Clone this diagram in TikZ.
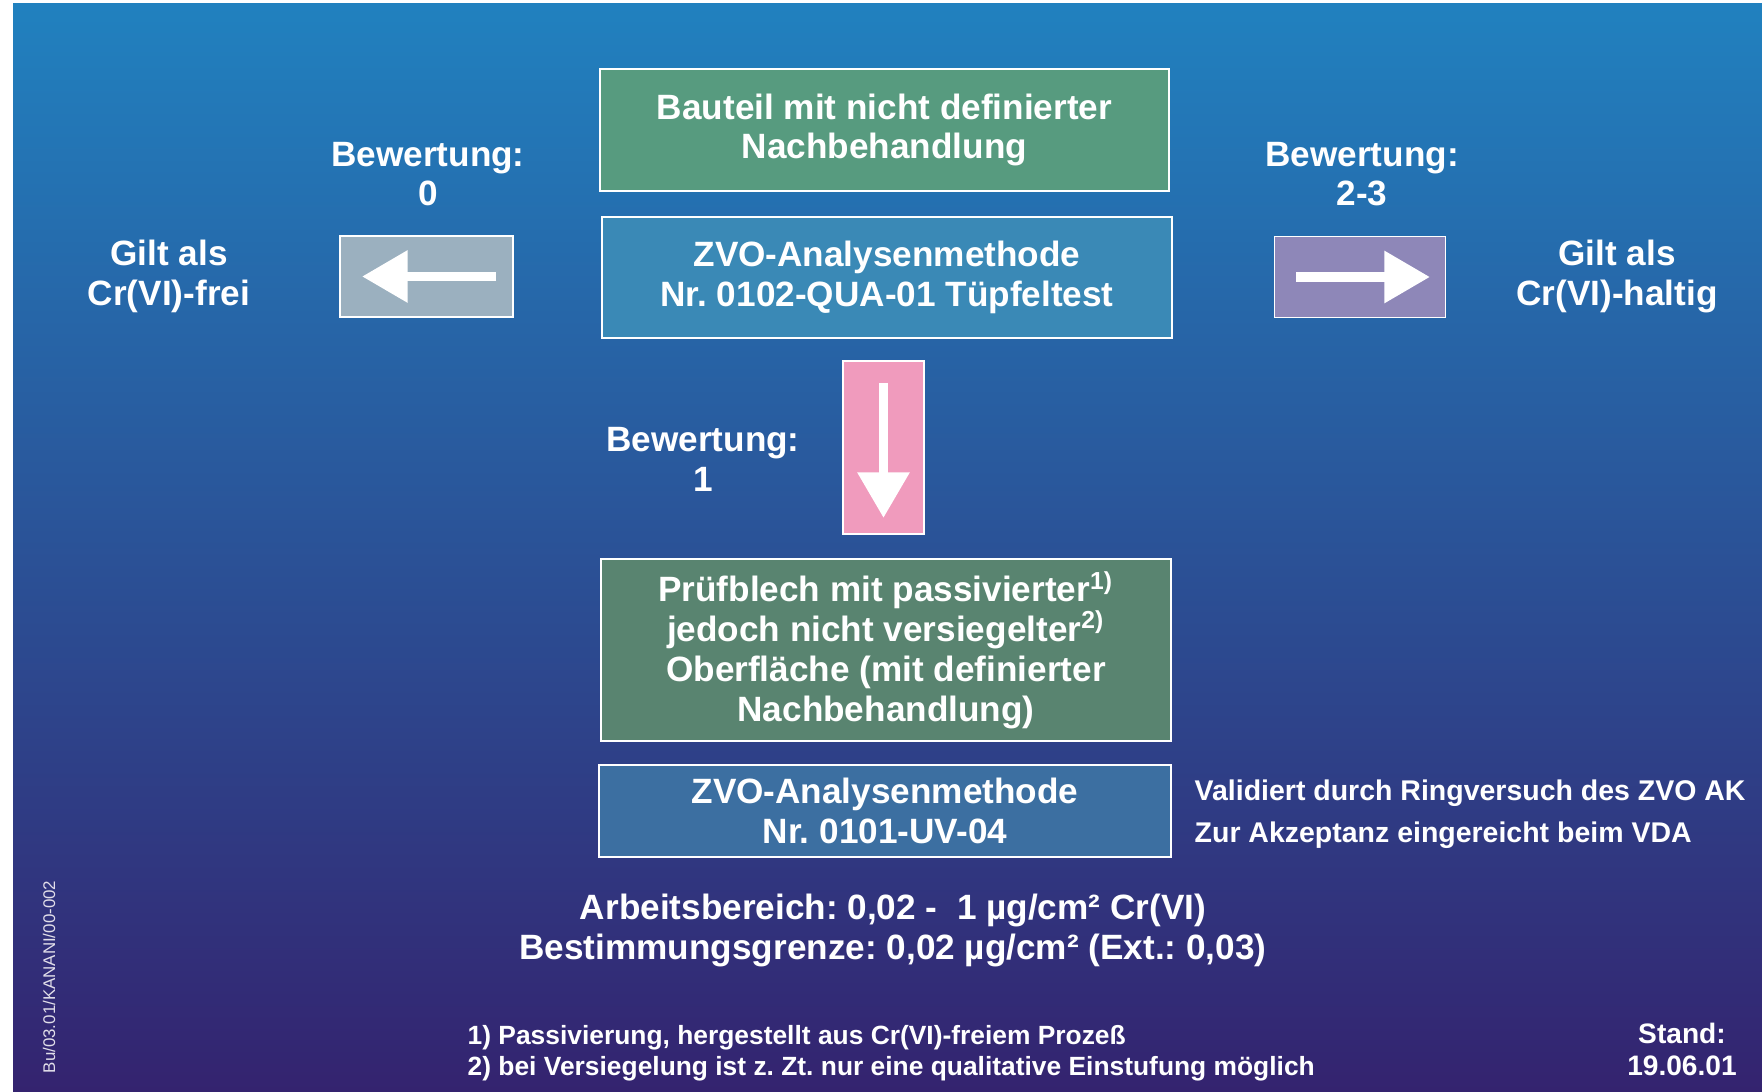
\documentclass[tikz,border=0pt]{standalone}
\usepackage{fontspec}
\setmainfont{Liberation Sans}
\usetikzlibrary{arrows.meta,calc}
\frenchspacing

\definecolor{bgtop}{HTML}{2181BF}
\definecolor{bgbot}{HTML}{34236F}
\definecolor{boxgreen}{HTML}{579B7F}
\definecolor{boxteal}{HTML}{3A89B6}
\definecolor{boxgray}{HTML}{9BB0BF}
\definecolor{boxlila}{HTML}{8E87B8}
\definecolor{boxpink}{HTML}{F09BBD}
\definecolor{boxdkgreen}{HTML}{598470}
\definecolor{boxblue}{HTML}{3C6FA1}

\begin{document}
\begin{tikzpicture}[x=0.01cm,y=-0.01cm]
	\tikzstyle{every node}=[font=\bfseries\fontsize{10pt}{11.3pt}\selectfont, text=white, align=center, inner sep=0pt]
	\tikzstyle{kasten}=[draw=white, line width=0.5pt]
	\tikzstyle{pfeil}=[white, line width=2.8pt, -{Triangle[width=14.2pt,length=13pt]}]
	
	\useasboundingbox (0,0) rectangle (1762,1092);
	\shade [top color=bgtop, bottom color=bgbot] (13,4) rectangle (1762,1092);
	
	% Kaesten in der Mitte
	\node [kasten, fill=boxgreen, minimum width=5.69cm, minimum height=1.22cm] (bauteil) at (884.5,130) {Bauteil mit nicht definierter\\Nachbehandlung};
	\node [kasten, fill=boxteal, minimum width=5.70cm, minimum height=1.21cm] (tuepfel) at (887,277.5) {ZVO-Analysenmethode\\Nr. 0102-QUA-01 Tüpfeltest};
	\node [kasten, fill=boxdkgreen, minimum width=5.70cm, minimum height=1.82cm] (pruefblech) at (886,650) {Prüfblech mit passivierter\textsuperscript{1)}\\jedoch nicht versiegelter\textsuperscript{2)}\\Oberfläche (mit definierter\\Nachbehandlung)};
	\node [kasten, fill=boxblue, minimum width=5.72cm, minimum height=0.92cm] (uvmethode) at (885,811) {ZVO-Analysenmethode\\Nr. 0101-UV-04};
	
	% Pfeilkaesten
	\node [kasten, fill=boxgray, minimum width=1.73cm, minimum height=0.81cm] (links) at (426.5,276.5) {};
	\node [kasten, fill=boxlila, minimum width=1.71cm, minimum height=0.81cm] (rechts) at (1360,277) {};
	\node [kasten, fill=boxpink, minimum width=0.81cm, minimum height=1.73cm] (unten) at (883.5,447.5) {};
	
	\draw [pfeil] ($(links.center)+(69.5,0)$) -- ($(links.center)+(-64.5,0)$);
	\draw [pfeil] ($(rechts.center)+(-64,0)$) -- ($(rechts.center)+(70,0)$);
	\draw [pfeil] ($(unten.center)+(0,-64.5)$) -- ($(unten.center)+(0,70.5)$);
	
	% Bewertungen
	\node (bew0) at (428,174) {Bewertung:\\0};
	\node (frei) at (169,276.5) {Gilt als\\Cr(VI)-frei};
	\node (bew23) at (1362,174) {Bewertung:\\2-3};
	\node (haltig) at (1617,276.5) {Gilt als\\Cr(VI)-haltig};
	\node (bew1) at (703,459.5) {Bewertung:\\1};
	
	\node [anchor=west, align=left, font=\bfseries\fontsize{8.1pt}{11.9pt}\selectfont] (ringversuch) at (1194,814) {Validiert durch Ringversuch des ZVO AK\\Zur Akzeptanz eingereicht beim VDA};
	
	\node [font=\bfseries\fontsize{10pt}{11.6pt}\selectfont] (bereich) at (893,930.5) {Arbeitsbereich: 0,02 -\ \ 1 µg/cm² Cr(VI)\\Bestimmungsgrenze: 0,02 µg/cm² (Ext.: 0,03)};
	
	\node [anchor=west, align=left, font=\bfseries\fontsize{7.5pt}{8.8pt}\selectfont] (fussnoten) at (467,1053.5) {1) Passivierung, hergestellt aus Cr(VI)-freiem Prozeß\\2) bei Versiegelung ist z. Zt. nur eine qualitative Einstufung möglich};
	\node [font=\bfseries\fontsize{8pt}{9.1pt}\selectfont] (stand) at (1682,1049) {Stand:\\19.06.01};
	
	\node [rotate=90, font=\fontsize{4.8pt}{5pt}\selectfont, text=white!85!bgbot] (kennung) at (49,977) {Bu/03.01/KANANI/00-002};
	
\end{tikzpicture}
\end{document}
